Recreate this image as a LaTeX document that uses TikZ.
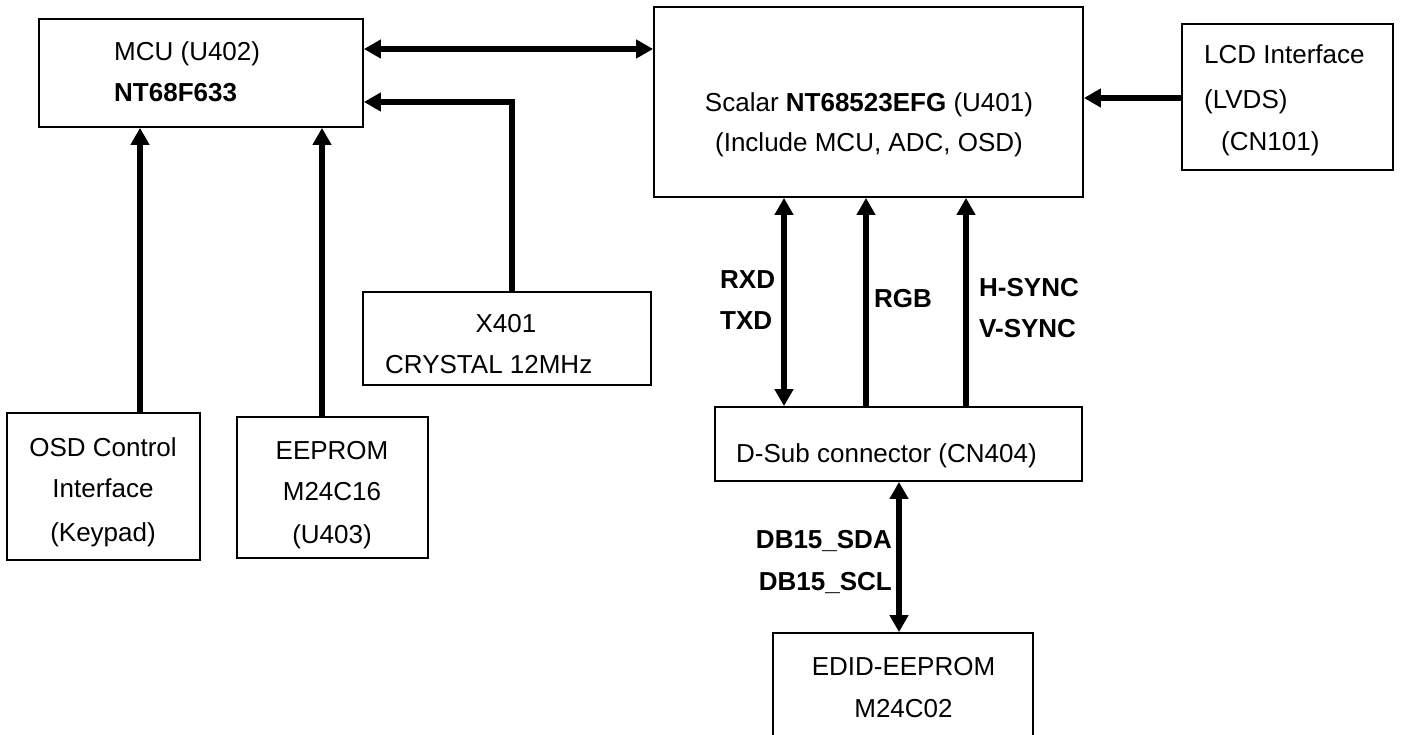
\documentclass[tikz,border=0pt]{standalone}
\usepackage{fontspec}
\setmainfont{Liberation Sans}
\usetikzlibrary{arrows.meta}
\begin{document}
\begin{tikzpicture}[x=1pt,y=-1pt,
  box/.style={draw, line width=1.8pt, rectangle, inner sep=0pt},
  txt/.style={inner sep=0pt, font=\fontsize{26}{31}\selectfont},
  btxt/.style={txt, font=\fontsize{26}{31}\selectfont\bfseries},
  arr/.style={line width=6pt, -{Triangle[width=18pt,length=17pt]}},
  darr/.style={line width=6pt, {Triangle[width=18pt,length=17pt]}-{Triangle[width=18pt,length=17pt]}}]
\useasboundingbox (0,0) rectangle (1402,735);
\clip (0,0) rectangle (1402,735);
\fill[white] (0,0) rectangle (1402,735);

% boxes
\node[box, minimum width=324pt, minimum height=108pt] (mcu) at (201,73) {};
\node[box, minimum width=429pt, minimum height=190pt] (scalar) at (868.5,102) {};
\node[box, minimum width=211pt, minimum height=146pt] (lcd) at (1287.5,97) {};
\node[box, minimum width=288pt, minimum height=93pt] (xtal) at (507,338.5) {};
\node[box, minimum width=193pt, minimum height=147pt] (osd) at (103.5,486.5) {};
\node[box, minimum width=191pt, minimum height=141pt] (eeprom) at (332.5,487.5) {};
\node[box, minimum width=367pt, minimum height=74pt] (dsub) at (898.5,444) {};
\node[box, minimum width=260pt, minimum height=140pt] (edid) at (903,703) {};

% texts
\node[txt, anchor=base west] (mcuA) at (114,61) {MCU (U402)};
\node[btxt, anchor=base west] (mcuB) at (114,102) {NT68F633};
\node[txt, anchor=base] (scA) at (869,112) {Scalar \textbf{NT68523EFG} (U401)};
\node[txt, anchor=base] (scB) at (869,152) {(Include MCU, ADC, OSD)};
\node[txt, anchor=base west] (lcdA) at (1204,64) {LCD Interface};
\node[txt, anchor=base west] (lcdB) at (1204,109) {(LVDS)};
\node[txt, anchor=base west] (lcdC) at (1221,151) {(CN101)};
\node[txt, anchor=base] (xtA) at (506,332) {X401};
\node[txt, anchor=base west] (xtB) at (385,373) {CRYSTAL 12MHz};
\node[txt, anchor=base] (osdA) at (103,456) {OSD Control};
\node[txt, anchor=base] (osdB) at (103,497) {Interface};
\node[txt, anchor=base] (osdC) at (103,541) {(Keypad)};
\node[txt, anchor=base] (eeA) at (332,459) {EEPROM};
\node[txt, anchor=base] (eeB) at (332,500) {M24C16};
\node[txt, anchor=base] (eeC) at (332,543) {(U403)};
\node[txt, anchor=base west] (dsA) at (736,462) {D-Sub connector (CN404)};
\node[txt, anchor=base] (edA) at (903.5,675) {EDID-EEPROM};
\node[txt, anchor=base] (edB) at (903.5,717) {M24C02};

% signal labels
\node[btxt, anchor=base west] (rxd) at (720,288) {RXD};
\node[btxt, anchor=base west] (txd) at (720,329) {TXD};
\node[btxt, anchor=base west] (rgb) at (874,307) {RGB};
\node[btxt, anchor=base west] (hs) at (979,296) {H-SYNC};
\node[btxt, anchor=base west] (vs) at (979,337) {V-SYNC};
\node[btxt, anchor=base east] (sda) at (892,548) {DB15\_SDA};
\node[btxt, anchor=base east] (scl) at (892,590) {DB15\_SCL};

% connector anchor points
\coordinate (m1) at ([yshift=24pt]mcu.east);
\coordinate (m2) at ([yshift=-29pt]mcu.east);
\coordinate (x1) at ([xshift=5pt]xtal.north);
\coordinate (o1) at ([xshift=36.5pt]osd.north);
\coordinate (e1) at ([xshift=-10.5pt]eeprom.north);
\coordinate (l1) at ([yshift=-1pt]lcd.west);
\coordinate (r1) at ([xshift=-114.5pt]dsub.north);
\coordinate (g1) at ([xshift=-32.5pt]dsub.north);
\coordinate (h1) at ([xshift=67.5pt]dsub.north);
\coordinate (d1) at ([xshift=0.5pt]dsub.south);

% connectors
\draw[darr] (m1) -- (m1 -| scalar.west);
\draw[arr] (x1) |- (m2);
\draw[arr] (o1) -- (o1 |- mcu.south);
\draw[arr] (e1) -- (e1 |- mcu.south);
\draw[arr] (l1) -- (l1 -| scalar.east);
\draw[darr] (r1 |- scalar.south) -- (r1);
\draw[arr] (g1) -- (g1 |- scalar.south);
\draw[arr] (h1) -- (h1 |- scalar.south);
\draw[darr] (d1) -- (d1 |- edid.north);
\end{tikzpicture}
\end{document}
